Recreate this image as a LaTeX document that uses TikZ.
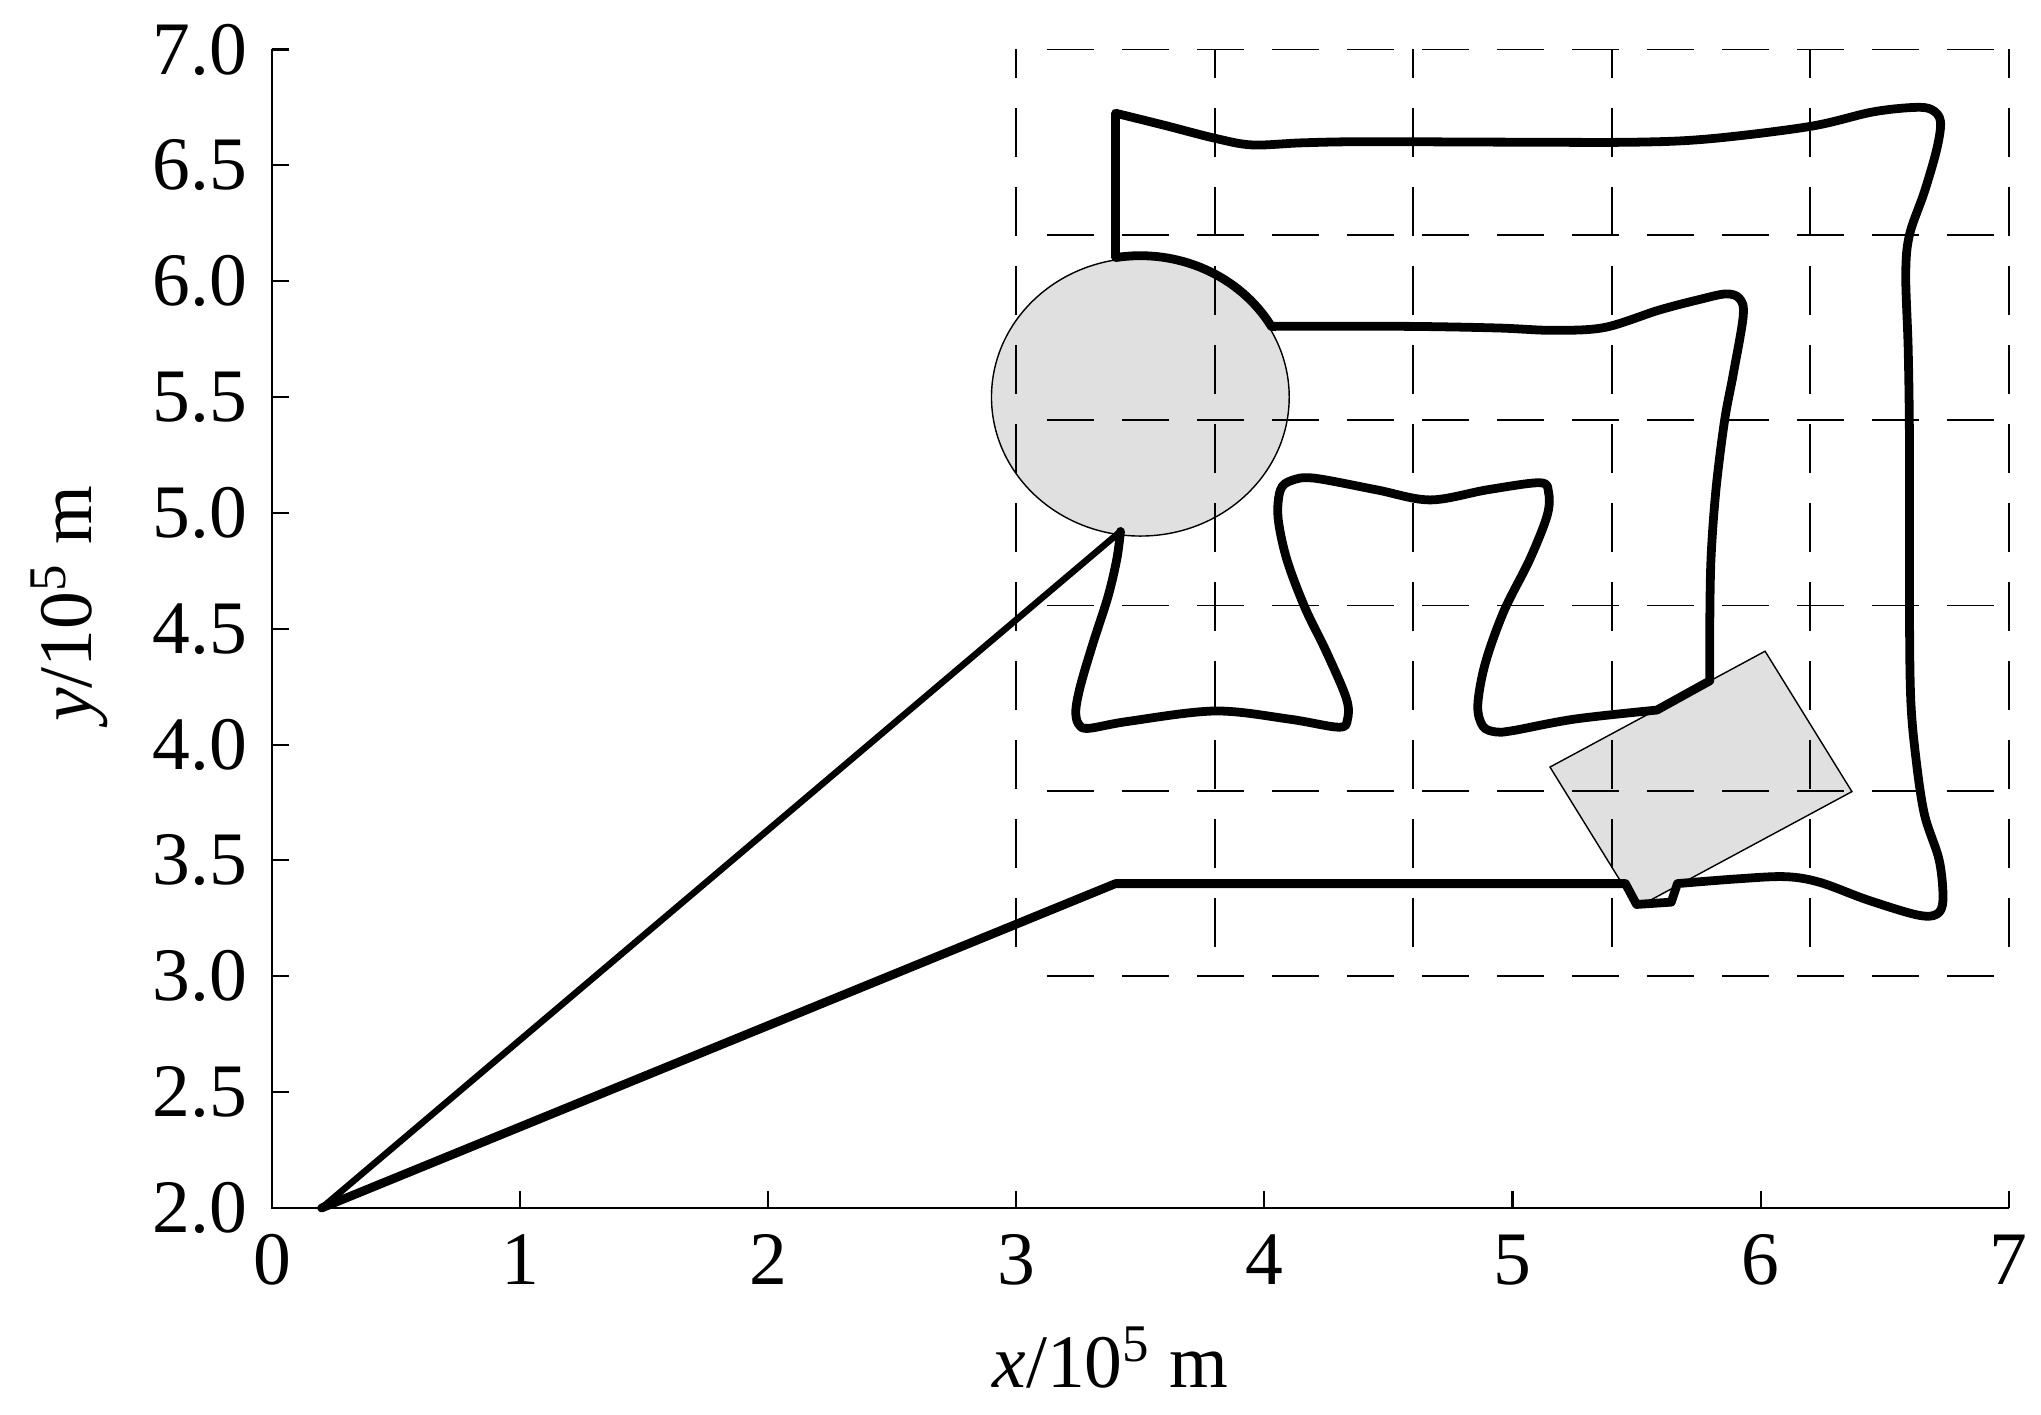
\documentclass[tikz,border=0pt]{standalone}
\usepackage{fontspec}
\setmainfont{Liberation Serif}
\usetikzlibrary{positioning,calc}
\definecolor{obstgray}{RGB}{224,224,224}
\tikzset{
  axisline/.style={line width=0.6pt},
  gridline/.style={line width=0.5pt},
  track/.style={line width=2.5pt,line join=round,line cap=round},
  obstacle/.style={draw,line width=0.4pt,fill=obstgray},
  ticklabel/.style={inner sep=0pt,font=\fontsize{21.5}{26}\selectfont},
}
\begin{document}
\begin{tikzpicture}[x=2.481cm,y=2.317cm]
\useasboundingbox (-1.0963,1.1109) rectangle (7.1302,7.2136);
% obstacles
\draw[obstacle] (3.5,5.5) circle[radius=0.6];
\coordinate (rL) at (5.151,3.903);
\coordinate (rT) at (6.018,4.403);
\coordinate (rR) at (6.368,3.797);
\coordinate (rB) at (5.501,3.297);
\draw[obstacle] (rL) -- (rT) -- (rR) -- (rB) -- cycle;
% dashed grid
\foreach \gx in {3.0,3.8,4.6,5.4,6.2,7.0}
  \draw[gridline,dash pattern=on 4.85mm off 3.05mm,dash phase=2mm] (\gx,7) -- (\gx,3);
\foreach \gy in {7.0,6.2,5.4,4.6,3.8,3.0}
  \draw[gridline,dash pattern=on 4.67mm off 2.83mm] (3.124,\gy) -- (7,\gy);
% axes
\draw[axisline] (0,7) -- (0,2) -- (7,2);
\foreach \i in {0,...,7} {
  \draw[axisline] (\i,2) -- ++(0,1.7mm);
  \node[ticklabel,anchor=north] (xt\i) at ([yshift=-2.6mm]\i,2) {\i};
}
\foreach \v [count=\k] in {2.0,2.5,3.0,3.5,4.0,4.5,5.0,5.5,6.0,6.5,7.0} {
  \draw[axisline] (0,\v) -- ++(1.7mm,0);
  \node[ticklabel,anchor=east] (yt\k) at ([xshift=-2.45mm]0,\v) {\v};
}
\node[ticklabel,anchor=base] (xlabel) at (3.38,1.225) {\textit{x}/10\textsuperscript{5} m};
\node[ticklabel,anchor=base,rotate=90] (ylabel) at (-0.7275,4.607) {\textit{y}/10\textsuperscript{5} m};
% trajectory
\coordinate (start) at (0.2,2.0);
\coordinate (cbot) at (3.42,4.92);
\coordinate (bend) at (3.4,3.4);
\draw[track,line width=1.85pt] (start) -- (cbot);
\draw[track] (cbot) -- plot[smooth,tension=0.55] coordinates {
  (3.42,4.92) (3.405,4.80) (3.37,4.64) (3.31,4.44) (3.26,4.26) (3.24,4.15)
  (3.25,4.09) (3.29,4.07) (3.45,4.10) (3.80,4.145) (4.10,4.11) (4.30,4.075)
  (4.335,4.11) (4.33,4.20) (4.25,4.40) (4.163,4.592) (4.09,4.80) (4.055,4.98)
  (4.065,5.10) (4.11,5.14) (4.20,5.15) (4.45,5.10) (4.668,5.056) (4.90,5.10)
  (5.11,5.13) (5.145,5.09) (5.14,4.99) (5.07,4.80) (4.965,4.575) (4.89,4.35)
  (4.86,4.17) (4.88,4.08) (4.93,4.055) (5.00,4.06) (5.25,4.11) (5.582,4.149)}
  -- (5.795,4.275)
  -- plot[smooth,tension=0.55] coordinates {
  (5.795,4.275) (5.795,4.50) (5.80,4.80) (5.82,5.10) (5.855,5.40) (5.89,5.60)
  (5.93,5.85) (5.915,5.925) (5.86,5.945) (5.75,5.92) (5.59,5.875) (5.37,5.80)
  (5.16,5.788) (4.94,5.798) (4.57,5.805) (4.028,5.805)}
  arc[start angle=30,end angle=99.4,radius=0.61]
  -- (3.40,6.725)
  -- plot[smooth,tension=0.55] coordinates {
  (3.40,6.725) (3.60,6.672) (3.80,6.617) (3.95,6.588) (4.15,6.597) (4.40,6.602)
  (5.00,6.600) (5.50,6.600) (5.80,6.615) (6.20,6.668) (6.45,6.73) (6.62,6.75)
  (6.69,6.74) (6.725,6.69) (6.71,6.57) (6.66,6.385) (6.60,6.20) (6.585,6.03)
  (6.595,5.70) (6.60,5.30) (6.60,4.60) (6.605,4.20) (6.625,3.95) (6.66,3.70)
  (6.72,3.50) (6.735,3.33) (6.71,3.268) (6.63,3.265) (6.43,3.33) (6.24,3.405)
  (6.10,3.43) (5.90,3.42) (5.665,3.40)}
  -- (5.64,3.32) -- (5.50,3.31) -- (5.455,3.40) -- (bend) -- (start);
\end{tikzpicture}
\end{document}
